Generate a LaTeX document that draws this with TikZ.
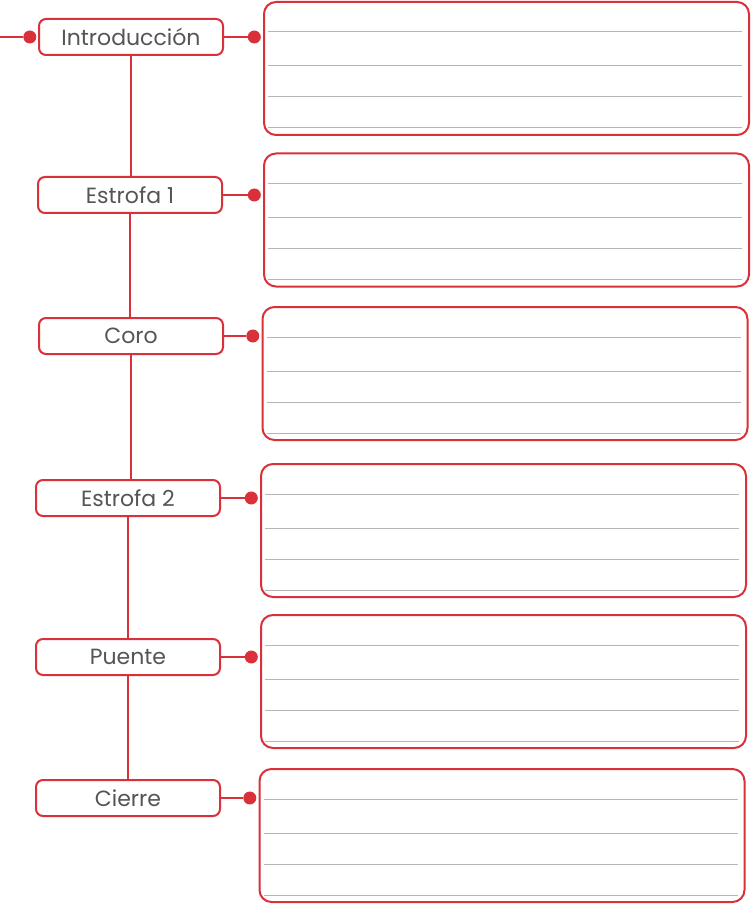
\documentclass[tikz,border=0pt]{standalone}
\usepackage{fontspec}
\setmainfont{Poppins}
\usetikzlibrary{positioning}
\definecolor{rojo}{HTML}{D9303A}
\definecolor{gristexto}{HTML}{555555}
\definecolor{grislinea}{HTML}{B5B5B5}
\tikzset{
    %Define standard styles
    etiqueta/.style={
      rectangle,
      rounded corners=7pt,
      draw=rojo, line width=2pt,
      fill=white,
      minimum width=184pt,
      minimum height=36pt,
      inner sep=0pt,
      text=gristexto,
      font=\fontsize{22}{24}\selectfont,
      text centered},
    caja/.style={
      rectangle,
      rounded corners=12pt,
      draw=rojo, line width=2pt,
      minimum width=485pt,
      minimum height=133pt,
      inner sep=0pt},
    punto/.style={
      circle,
      fill=rojo,
      minimum size=13pt,
      inner sep=0pt},
    enlace/.style={
      draw=rojo, line width=2pt},
    renglon/.style={
      draw=grislinea, line width=1pt},
}

\begin{document}
\begin{tikzpicture}[x=1pt,y=-1pt]
    \useasboundingbox (0,0) rectangle (752,909);
    % etiquetas
    \node (intro) [etiqueta] at (131,37)
          {Introducción};
    \node (est1) [etiqueta] at (130,195)
          {Estrofa 1};
    \node (coro) [etiqueta] at (131,336)
          {Coro};
    \node (est2) [etiqueta] at (128,498)
          {Estrofa 2};
    \node (puente) [etiqueta] at (128,657)
          {Puente};
    \node (cierre) [etiqueta] at (128,798)
          {Cierre\hspace{16pt}};
    % cajas para escribir
    \node (caja1) [caja] at (506.5,68.5) {};
    \node (caja2) [caja] at (506.5,220) {};
    \node (caja3) [caja] at (505,373.5) {};
    \node (caja4) [caja] at (503.5,530.5) {};
    \node (caja5) [caja] at (503.5,681.5) {};
    \node (caja6) [caja] at (502,835.5) {};
    \foreach \c in {caja1,caja2,caja3,caja4,caja5,caja6}
      \foreach \d in {31,65,96,127}
        \draw [renglon] ([xshift=5pt,yshift=-\d pt]\c.north west)
                     -- ([xshift=-8pt,yshift=-\d pt]\c.north east);
    % linea central
    \foreach \a/\b in {intro/est1,est1/coro,coro/est2,est2/puente,puente/cierre}
      \draw [enlace] (\a.south) -- (\a.south |- \b.north);
    % entrada
    \node (p0) [punto] [left=1.5pt of intro] {};
    \coordinate (borde) at (0,0 |- p0);
    \draw [enlace] (borde) -- (p0);
    % puntos hacia las cajas
    \foreach \e/\c/\n in {intro/caja1/1,est1/caja2/2,coro/caja3/3,est2/caja4/4,puente/caja5/5,cierre/caja6/6}{
      \node (p\n) [punto,anchor=east] at ([xshift=-2pt]\c.west |- \e) {};
      \draw [enlace] (\e.east) -- (p\n);
    }
\end{tikzpicture}
\end{document}
